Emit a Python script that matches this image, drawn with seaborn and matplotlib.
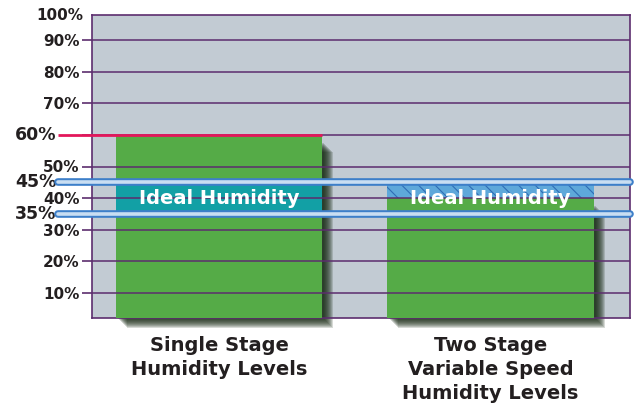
import matplotlib
matplotlib.use("Agg")
import matplotlib.pyplot as plt
import seaborn as sns

categories = ["Single Stage\nHumidity Levels", "Two Stage\nVariable Speed\nHumidity Levels"]
humidity = [60, 40]
ideal_low, ideal_high = 35, 45
grid_ticks = [10, 20, 30, 40, 50, 60, 70, 80, 90]
tick_labels = ["10%", "20%", "30%", "40%", "50%", "", "70%", "80%", "90%"]

green = "#55ab47"
teal = "#12a0a5"
purple = "#5c2d6e"
red = "#e3175b"
dark = "#231f20"

sns.set_style("white")
plt.rcParams["font.family"] = ["DejaVu Sans"]
plt.rcParams["hatch.linewidth"] = 0.8

fig = plt.figure(figsize=(6.34, 4.09), dpi=100)
ax = fig.add_axes([92 / 634, 91 / 409, 538 / 634, 303 / 409])
ax.set_facecolor("#c2cbd3")

bar_w = 0.76
sns.barplot(x=categories, y=humidity, width=bar_w, color=green, saturation=1,
            linewidth=0, ax=ax, zorder=3)
ax.set_xlim(-0.468, 1.514)
ax.set_ylim(2, 98)

# soft dark green shadow right/below the bars
px_x = 1 / 271.5
px_y = 10 / 31.5
for i, v in enumerate(humidity):
    for k in range(0, 10):
        ax.add_patch(plt.Rectangle((i - bar_w / 2 + (2 + k) * px_x, 2 - (1 + k) * px_y),
                                   bar_w, v - 2 - 7 * px_y,
                                   color="#12260f", alpha=0.17, lw=0, zorder=2, clip_on=False))

# ideal band inside bar 1 (teal) and above bar 2 (hatched)
ax.bar(0, min(humidity[0], ideal_high) - ideal_low, bottom=ideal_low, width=bar_w,
       color=teal, lw=0, zorder=3.5)
ax.bar(1, ideal_high - humidity[1], bottom=humidity[1], width=bar_w,
       facecolor="#5ea8da", edgecolor="#2f6db5", hatch="\\\\", lw=0, zorder=3.5)

# gridlines on top of bars
for t in grid_ticks:
    ax.axhline(t, color=purple, lw=1.1, zorder=4)

# red 60% line
x_left = -0.468 - 34 * px_x
ax.plot([x_left, 0 + bar_w / 2], [humidity[0]] * 2, color=red, lw=2, zorder=5,
        clip_on=False, solid_capstyle="butt")

# glowing ideal-band lines
for y in (ideal_low, ideal_high):
    ax.plot([x_left, 1.514], [y, y], color="#3d7fc9", lw=5.5, zorder=6,
            clip_on=False, solid_capstyle="round")
    ax.plot([x_left, 1.514], [y, y], color="#c9def2", lw=2.6, zorder=6.5,
            clip_on=False, solid_capstyle="round")

for i, v in enumerate(humidity):
    ax.text(i, 40, "Ideal Humidity", color="white", fontsize=14, fontweight="bold",
            ha="center", va="center", zorder=8)

ax.set_yticks(grid_ticks)
ax.set_yticklabels(tick_labels, fontsize=11, fontweight="bold", color=dark)
ax.tick_params(axis="y", length=7, width=1.2, color=purple, pad=2, left=True)
ax.tick_params(axis="x", length=0, pad=13)
for lab in ax.get_xticklabels():
    lab.set_fontsize(14)
    lab.set_fontweight("bold")
    lab.set_color(dark)
    lab.set_linespacing(1.32)

ytr = ax.get_yaxis_transform()
ax.text(-0.016, 98, "100%", transform=ytr, ha="right", va="center",
        fontsize=11, fontweight="bold", color=dark)
for y in (humidity[0], ideal_high, ideal_low):
    ax.text(-0.066, y, f"{y}%", transform=ytr, ha="right", va="center",
            fontsize=12.5, fontweight="bold", color=dark)

for s in ax.spines.values():
    s.set_visible(True)
    s.set_color(purple)
    s.set_linewidth(1.2)
ax.set_xlabel("")
ax.set_ylabel("")

fig.savefig("out.png", dpi=100)
